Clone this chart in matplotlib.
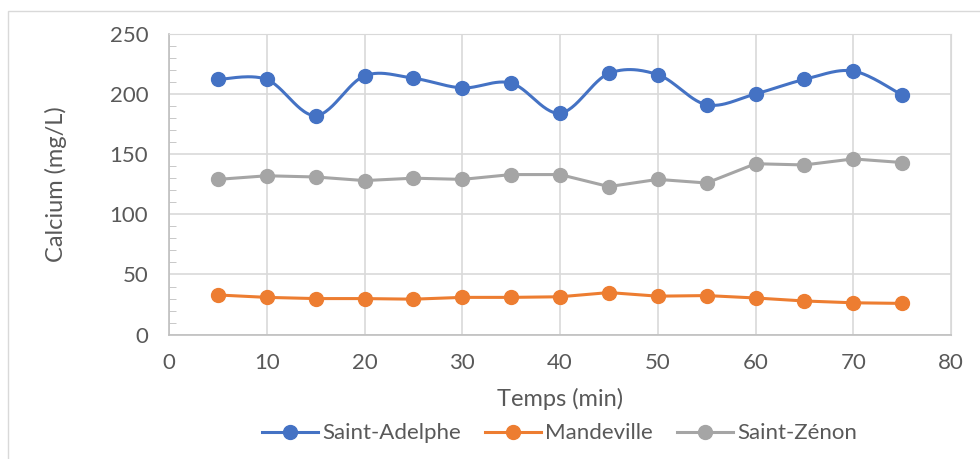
import numpy as np
import matplotlib
matplotlib.use("Agg")
import matplotlib.pyplot as plt
from matplotlib.patches import Rectangle
from matplotlib.lines import Line2D

plt.rcParams['font.family'] = ['Lato', 'DejaVu Sans']

temps = [5, 10, 15, 20, 25, 30, 35, 40, 45, 50, 55, 60, 65, 70, 75]
saint_adelphe = [212, 212, 182, 215, 213, 205, 209, 184, 217, 216, 191, 200, 212, 219, 199]
mandeville = [33, 31, 30, 30, 29.5, 31, 31, 31.5, 35, 32, 32.5, 30.5, 28, 26.5, 26]
saint_zenon = [129, 132, 131, 128, 130, 129, 133, 133, 123, 129, 126, 142, 141, 146, 143]

BLEU = '#4472C4'
ORANGE = '#ED7D31'
GRIS = '#A5A5A5'
TEXTE = '#595959'
GRILLE = '#D9D9D9'


def lisser(x, y, n=30):
    # courbe lissée façon Excel (Catmull-Rom passant par chaque point)
    x = np.asarray(x, float)
    y = np.asarray(y, float)
    px = np.concatenate([[x[0]], x, [x[-1]]])
    py = np.concatenate([[y[0]], y, [y[-1]]])
    xs, ys = [], []
    t = np.linspace(0, 1, n)
    for i in range(1, len(px) - 2):
        p0, p1, p2, p3 = (np.array([px[j], py[j]]) for j in range(i - 1, i + 3))
        c1 = p1 + (p2 - p0) / 6
        c2 = p2 - (p3 - p1) / 6
        b = ((1 - t) ** 3)[:, None] * p1 + (3 * (1 - t) ** 2 * t)[:, None] * c1 \
            + (3 * (1 - t) * t ** 2)[:, None] * c2 + (t ** 3)[:, None] * p2
        xs.extend(b[:, 0])
        ys.extend(b[:, 1])
    return xs, ys


fig = plt.figure(figsize=(9.8, 4.59), dpi=100)
fig.patches.append(Rectangle((8 / 980, -0.1), 1.1, (459 - 11) / 459 + 0.1,
                             transform=fig.transFigure, fill=False,
                             edgecolor='#D9D9D9', linewidth=1))
ax = fig.add_axes([169 / 980, 1 - 334.7 / 459, (951 - 169) / 980, (334.7 - 33.7) / 459])

ms = 10
lw = 2.2
xb, yb = lisser(temps, saint_adelphe)
ax.plot(xb, yb, color=BLEU, linewidth=lw, zorder=3)
ax.plot(temps, saint_adelphe, 'o', color=BLEU, markersize=ms, zorder=4)
ax.plot(temps, mandeville, '-o', color=ORANGE, linewidth=lw, markersize=ms, zorder=4)
ax.plot(temps, saint_zenon, '-o', color=GRIS, linewidth=lw, markersize=ms, zorder=4)

ax.set_xlim(0, 80)
ax.set_ylim(0, 250)
ax.set_xticks(range(0, 81, 10))
ax.set_yticks(range(0, 251, 50))
ax.set_yticks(range(0, 251, 10), minor=True)
ax.grid(True, which='major', color=GRILLE, linewidth=1.2)
ax.set_axisbelow(True)
for cote in ['top', 'right']:
    ax.spines[cote].set_color(GRILLE)
for cote in ['left', 'bottom']:
    ax.spines[cote].set_color('#BFBFBF')
    ax.spines[cote].set_linewidth(1.2)
ax.tick_params(axis='both', which='major', length=0, labelsize=16, labelcolor=TEXTE)
ax.tick_params(axis='x', which='major', pad=13)
ax.tick_params(axis='y', which='major', pad=15)
ax.tick_params(axis='y', which='minor', direction='in', length=5, color='#BFBFBF')
ax.tick_params(axis='x', which='minor', length=0)

ax.set_xlabel('Temps (min)', fontsize=17, color=TEXTE, va='center')
ax.set_ylabel('Calcium (mg/L)', fontsize=17, color=TEXTE, va='center')
ax.xaxis.set_label_coords(0.5, (334.7 - 399) / 301)
ax.yaxis.set_label_coords((56 - 169) / 782, 0.5)

poignees = [Line2D([], [], color=c, linewidth=lw, marker='o', markersize=ms)
            for c in (BLEU, ORANGE, GRIS)]
fig.legend(poignees, ['Saint-Adelphe', 'Mandeville', 'Saint-Zénon'],
           loc='center', bbox_to_anchor=(0.571, 0.056), ncol=3, frameon=False,
           fontsize=16, labelcolor=TEXTE, handlelength=2.5, handletextpad=0.2,
           columnspacing=1.1)

fig.savefig('out.png', dpi=100)
